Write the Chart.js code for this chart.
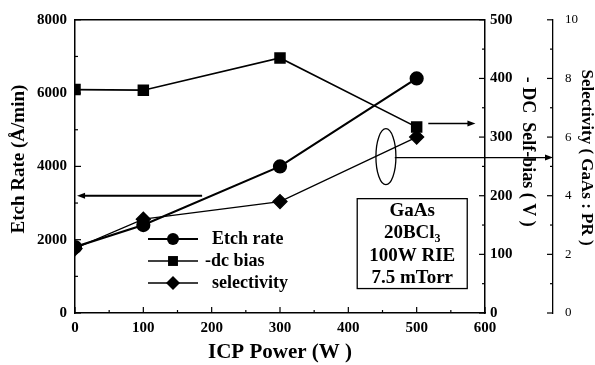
<!DOCTYPE html>
<html>
<head>
<meta charset="utf-8">
<script src="https://cdn.jsdelivr.net/npm/chart.js@4.4.1/dist/chart.umd.min.js"></script>
<style>
html,body{margin:0;padding:0;background:#fff;}
#wrap{width:595px;height:365px;}
</style>
</head>
<body>
<div id="wrap"><canvas id="c" width="595" height="365"></canvas></div>
<script>
// ---- data ----
const icpPower    = [0, 100, 300, 500];          // W
const etchRate    = [1800, 2400, 4000, 6400];    // Å/min
const dcBias      = [381, 380, 435, 317];        // -V
const selectivity = [2.2, 3.2, 3.8, 6.0];        // GaAs : PR
const xTicks  = [0, 100, 200, 300, 400, 500, 600];
const yTicks  = [0, 2000, 4000, 6000, 8000];
const y2Ticks = [0, 100, 200, 300, 400, 500];
const y3Ticks = [0, 2, 4, 6, 8, 10];
const seriesNames = ['Etch rate', '-dc bias', 'selectivity'];
const boxLines = ['GaAs', '20BCl|3', '100W RIE', '7.5 mTorr'];

const SERIF = "'Liberation Serif','DejaVu Serif',serif";
const tickFont = {family: SERIF, size: 15, weight: 'bold'};
const plain = v => String(v);
const noGrid = {display: false, drawTicks: false, tickLength: 0};

function pts(xs, ys){ return xs.map((v,i)=>({x:v, y:ys[i]})); }

function line(ctx,x1,y1,x2,y2){ ctx.beginPath(); ctx.moveTo(x1,y1); ctx.lineTo(x2,y2); ctx.stroke(); }
function arrow(ctx,x1,y1,x2,y2,lw){
  ctx.lineWidth = lw;
  const ang = Math.atan2(y2-y1, x2-x1);
  const hl = 8, hw = 3;
  line(ctx,x1,y1,x2 - Math.cos(ang)*hl*0.6,y2 - Math.sin(ang)*hl*0.6);
  ctx.beginPath();
  ctx.moveTo(x2,y2);
  ctx.lineTo(x2 - Math.cos(ang)*hl - Math.sin(ang)*hw, y2 - Math.sin(ang)*hl + Math.cos(ang)*hw);
  ctx.lineTo(x2 - Math.cos(ang)*hl + Math.sin(ang)*hw, y2 - Math.sin(ang)*hl - Math.cos(ang)*hw);
  ctx.closePath(); ctx.fill();
}
function marker(ctx, style, x, y, r){
  ctx.beginPath();
  if (style === 'circle') { ctx.arc(x,y,r,0,Math.PI*2); }
  else if (style === 'rect') { const s = r*Math.SQRT1_2; ctx.rect(x-s,y-s,2*s,2*s); }
  else { ctx.moveTo(x,y-r); ctx.lineTo(x+r,y); ctx.lineTo(x,y+r); ctx.lineTo(x-r,y); ctx.closePath(); }
  ctx.fill();
}

const decorations = {
  id: 'decorations',
  afterDraw(chart){
    const {ctx, chartArea:a, scales:{x,y,y2,y3}} = chart;
    ctx.save();
    ctx.strokeStyle = '#000'; ctx.fillStyle = '#000';
    // top frame line
    ctx.lineWidth = 1.5;
    line(ctx, a.left, a.top, a.right, a.top);
    ctx.lineWidth = 1.2;
    // x ticks (inward, up)
    for (let v = 0; v <= 600; v += 50) {
      const px = x.getPixelForValue(v);
      line(ctx, px, a.bottom, px, a.bottom - (v % 100 ? 3 : 6));
    }
    // left ticks (inward, right)
    for (let v = 0; v <= 8000; v += 1000) {
      const py = y.getPixelForValue(v);
      line(ctx, a.left, py, a.left + (v % 2000 ? 3 : 6), py);
    }
    // right dc-bias ticks (inward, left)
    for (let v = 0; v <= 500; v += 50) {
      const py = y2.getPixelForValue(v);
      line(ctx, a.right, py, a.right - (v % 100 ? 3 : 6), py);
    }
    // selectivity axis ticks (left side of its line)
    const sx = y3.left;
    for (let v = 0; v <= 10; v += 1) {
      const py = y3.getPixelForValue(v);
      line(ctx, sx, py, sx - (v % 2 ? 3 : 6), py);
    }

    // axis titles (vertical)
    ctx.textAlign = 'center'; ctx.textBaseline = 'middle';
    ctx.font = "bold 19px " + SERIF;
    ctx.save(); ctx.translate(19, y.getPixelForValue(4200)); ctx.rotate(-Math.PI/2);
    ctx.fillText('Etch Rate (Å/min)', 0, 0); ctx.restore();
    ctx.font = "bold 18px " + SERIF;
    ctx.save(); ctx.translate(528, y2.getPixelForValue(275)); ctx.rotate(Math.PI/2);
    ctx.fillText('- DC  Self-bias ( V )', 0, 0); ctx.restore();
    ctx.font = "bold 17px " + SERIF;
    ctx.save(); ctx.translate(586, y3.getPixelForValue(5.3)); ctx.rotate(Math.PI/2);
    ctx.fillText('Selectivity ( GaAs : PR )', 0, 0); ctx.restore();

    // arrows
    arrow(ctx, x.getPixelForValue(186), y.getPixelForValue(3200), x.getPixelForValue(3), y.getPixelForValue(3200), 2);
    arrow(ctx, x.getPixelForValue(517), y2.getPixelForValue(323), x.getPixelForValue(586), y2.getPixelForValue(323), 1.5);
    arrow(ctx, x.getPixelForValue(468), y3.getPixelForValue(5.3), y3.left, y3.getPixelForValue(5.3), 1.3);
    // ellipse around selectivity point
    ctx.lineWidth = 1.3;
    ctx.beginPath();
    ctx.ellipse(x.getPixelForValue(455), y3.getPixelForValue(5.33), 10, 28, 0, 0, Math.PI*2);
    ctx.stroke();

    // condition box
    const bx1 = x.getPixelForValue(413), bx2 = x.getPixelForValue(574);
    const by1 = y.getPixelForValue(3120), by2 = y.getPixelForValue(667);
    ctx.lineWidth = 1.3;
    ctx.fillStyle = '#fff';
    ctx.fillRect(bx1, by1, bx2-bx1, by2-by1);
    ctx.strokeRect(bx1, by1, bx2-bx1, by2-by1);
    ctx.fillStyle = '#000';
    const cx = (bx1 + bx2) / 2;
    const lineYs = [208, 230, 253, 275];
    boxLines.forEach((t, i) => {
      const yy = by1 + (lineYs[i] - 196);
      if (t.includes('|')) {
        const [main, sub] = t.split('|');
        ctx.font = "bold 19px " + SERIF;
        const w1 = ctx.measureText(main).width;
        ctx.font = "bold 12px " + SERIF;
        const w2 = ctx.measureText(sub).width;
        const start = cx - (w1 + w2) / 2;
        ctx.textAlign = 'left';
        ctx.font = "bold 19px " + SERIF;
        ctx.fillText(main, start, yy);
        ctx.font = "bold 12px " + SERIF;
        ctx.fillText(sub, start + w1, yy + 6);
        ctx.textAlign = 'center';
      } else {
        ctx.font = "bold 19px " + SERIF;
        ctx.fillText(t, cx, yy);
      }
    });

    // legend
    const styles = ['circle', 'rect', 'rectRot'];
    const radii = [6, 7, 7];
    const widths = [2.2, 1.6, 1.3];
    const legY = [239, 261, 283];
    const legTX = [212, 205, 212];
    ctx.font = "bold 18px " + SERIF;
    ctx.textAlign = 'left';
    seriesNames.forEach((n, i) => {
      ctx.lineWidth = widths[i];
      line(ctx, 148, legY[i], 198, legY[i]);
      marker(ctx, styles[i], 173, legY[i], radii[i]);
      ctx.fillText(n, legTX[i], legY[i]);
    });
    ctx.restore();
  }
};

new Chart(document.getElementById('c'), {
  type: 'line',
  data: {
    datasets: [
      {label: seriesNames[0], data: pts(icpPower, etchRate), yAxisID: 'y',
       borderColor: '#000', backgroundColor: '#000', borderWidth: 2.2,
       pointStyle: 'circle', pointRadius: 6, tension: 0},
      {label: seriesNames[1], data: pts(icpPower, dcBias), yAxisID: 'y2',
       borderColor: '#000', backgroundColor: '#000', borderWidth: 1.6,
       pointStyle: 'rect', pointRadius: 7, tension: 0},
      {label: seriesNames[2], data: pts(icpPower, selectivity), yAxisID: 'y3',
       borderColor: '#000', backgroundColor: '#000', borderWidth: 1.3,
       pointStyle: 'rectRot', pointRadius: 7, tension: 0}
    ]
  },
  options: {
    responsive: false,
    animation: false,
    layout: {padding: {top: 13, left: 0, right: 0, bottom: 0}},
    plugins: {legend: {display: false}, tooltip: {enabled: false}},
    scales: {
      x: {
        type: 'linear', position: 'bottom', min: 0, max: 600,
        afterBuildTicks: s => { s.ticks = xTicks.map(v => ({value: v})); },
        afterFit: s => { s.height = 52; },
        grid: noGrid,
        border: {display: true, color: '#000', width: 1.5},
        ticks: {color: '#000', font: tickFont, padding: 6, maxRotation: 0, callback: plain},
        title: {display: true, text: 'ICP Power (W )', color: '#000',
                font: {family: SERIF, size: 21, weight: 'bold'}, padding: {top: 0, bottom: 0}}
      },
      y: {
        type: 'linear', position: 'left', min: 0, max: 8000,
        afterBuildTicks: s => { s.ticks = yTicks.map(v => ({value: v})); },
        afterFit: s => { s.width = 75; },
        grid: noGrid,
        border: {display: true, color: '#000', width: 1.5},
        ticks: {color: '#000', font: tickFont, padding: 8, callback: plain}
      },
      y2: {
        type: 'linear', position: 'right', min: 0, max: 500, weight: 0,
        afterBuildTicks: s => { s.ticks = y2Ticks.map(v => ({value: v})); },
        afterFit: s => { s.width = 68; },
        grid: noGrid,
        border: {display: true, color: '#000', width: 1.5},
        ticks: {color: '#000', font: tickFont, padding: 5, callback: plain}
      },
      y3: {
        type: 'linear', position: 'right', min: 0, max: 10, weight: 1,
        afterBuildTicks: s => { s.ticks = y3Ticks.map(v => ({value: v})); },
        afterFit: s => { s.width = 42; },
        grid: noGrid,
        border: {display: true, color: '#000', width: 1.3},
        ticks: {color: '#000', font: {family: SERIF, size: 13}, padding: 12, callback: plain}
      }
    }
  },
  plugins: [decorations]
});
</script>
</body>
</html>
